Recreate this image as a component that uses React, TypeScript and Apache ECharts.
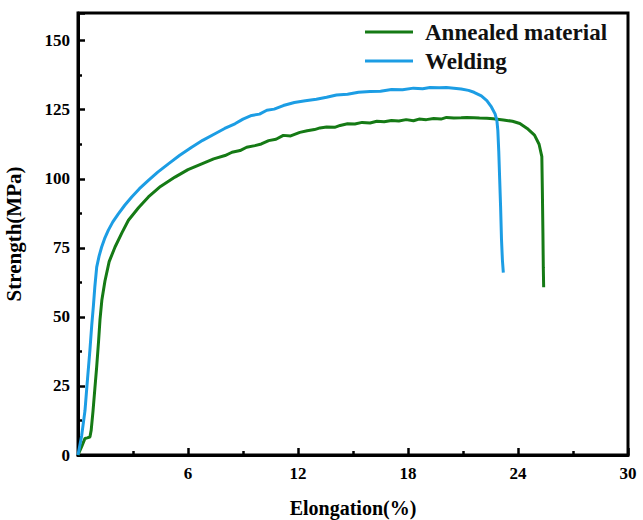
import React, { useEffect, useRef } from "react";
import * as echarts from "echarts";

const seriesNames = ["Annealed material", "Welding"];

const annealedX = [0, 0.2, 0.38, 0.5, 0.65, 0.72, 0.82, 0.92, 1.02, 1.12, 1.2, 1.3, 1.47, 1.7, 2.02, 2.4, 2.75, 3.3, 3.84, 4.5, 5.29, 6.0, 6.75, 7.4, 8.02, 8.4, 8.84, 9.2, 9.65, 10.0, 10.4, 10.8, 11.2, 11.6, 12.1, 12.5, 12.9, 13.2, 13.56, 14.0, 14.3, 14.7, 15.1, 15.5, 15.93, 16.3, 16.7, 17.1, 17.5, 17.9, 18.3, 18.6, 19.0, 19.4, 19.8, 20.1, 20.5, 20.9, 21.2, 21.6, 21.9, 22.3, 22.65, 23.2, 23.7, 24.1, 24.5, 24.9, 25.15, 25.3, 25.33, 25.36, 25.38, 25.4];
const annealedY = [0, 3, 6, 6.2, 6.5, 9, 16, 24, 32, 41, 49, 56, 63, 70, 75.3, 80.5, 85, 89.5, 93.4, 97.2, 100.6, 103.3, 105.4, 107.2, 108.4, 109.6, 110.2, 111.4, 112, 112.6, 113.8, 114.3, 115.7, 115.5, 116.8, 117.4, 117.8, 118.4, 118.7, 118.6, 119.3, 119.9, 119.8, 120.4, 120.2, 120.8, 120.6, 121.1, 120.9, 121.4, 121, 121.6, 121.4, 121.8, 121.6, 122.2, 122, 122.1, 122.2, 122.1, 122, 121.9, 121.7, 121.3, 120.8, 120, 118.2, 115.8, 112.5, 108, 95, 80, 68, 60.7];

const weldingX = [0, 0.2, 0.38, 0.5, 0.65, 0.75, 0.84, 0.92, 1.02, 1.15, 1.29, 1.45, 1.65, 1.9, 2.2, 2.55, 2.93, 3.35, 3.84, 4.35, 4.93, 5.55, 6.2, 6.8, 7.47, 8.0, 8.56, 9.0, 9.47, 9.9, 10.3, 10.7, 11.2, 11.8, 12.4, 13.0, 13.56, 14.1, 14.7, 15.3, 15.93, 16.5, 17.1, 17.7, 18.3, 18.8, 19.2, 19.7, 20.1, 20.5, 20.9, 21.3, 21.6, 22.0, 22.3, 22.55, 22.75, 22.85, 22.9, 22.95, 23.0, 23.05, 23.1, 23.15, 23.2];
const weldingY = [0, 7, 16, 26, 38, 47, 54, 61, 68, 72, 75.3, 78.3, 81.3, 84.4, 87.3, 90.4, 93.4, 96.4, 99.4, 102.4, 105.4, 108.5, 111.4, 113.9, 116.3, 118.2, 119.9, 121.6, 122.9, 123.4, 124.8, 125.2, 126.5, 127.6, 128.2, 128.8, 129.5, 130.3, 130.6, 131.3, 131.6, 131.7, 132.3, 132.2, 132.8, 132.6, 133.0, 132.9, 133, 132.8, 132.5, 132.0, 131.3, 130, 128.3, 126, 123.5, 121, 117.5, 110, 100, 90, 78, 70.5, 66];

const xTicks = { min: 0, max: 30, interval: 6 };
const yTicks = { min: 0, max: 160, interval: 25 };

const FONT = '"Liberation Serif", "Times New Roman", serif';
const GREEN = "#157a15";
const BLUE = "#1c9de4";

function pairs(xs: number[], ys: number[]) {
  return xs.map((x, i) => [x, ys[i]]);
}

export default function App() {
  const ref = useRef<HTMLDivElement>(null);
  useEffect(() => {
    if (!ref.current) return;
    const chart = echarts.init(ref.current, null, { renderer: "svg" });
    const axisCommon = {
      axisLine: { show: true, lineStyle: { color: "#000", width: 3 } },
      axisTick: { show: true, inside: true, length: 7, lineStyle: { color: "#000", width: 2.5 } },
      minorTick: { show: true, splitNumber: 2, length: 4, lineStyle: { color: "#000", width: 2.5 } },
      splitLine: { show: false },
      axisLabel: { color: "#000", fontFamily: FONT, fontWeight: "bold", fontSize: 17, margin: 8 },
      nameTextStyle: { color: "#000", fontFamily: FONT, fontWeight: "bold", fontSize: 21 },
    };
    chart.setOption({
      animation: false,
      backgroundColor: "#fff",
      grid: {
        left: 78,
        right: 15,
        top: 13,
        bottom: 65,
        containLabel: false,
        outerBoundsMode: "none",
        show: true,
        borderColor: "#000",
        borderWidth: 3,
        backgroundColor: "transparent",
      },
      legend: {
        orient: "vertical",
        left: 365,
        top: 20,
        padding: 0,
        icon: "rect",
        itemWidth: 48,
        itemHeight: 3,
        itemGap: 5,
        data: seriesNames,
        textStyle: {
          color: "#111",
          fontFamily: FONT,
          fontWeight: "bold",
          fontSize: 23,
          lineHeight: 24,
          padding: [0, 0, 0, 7],
        },
      },
      xAxis: {
        type: "value",
        ...xTicks,
        name: "Elongation(%)",
        nameLocation: "middle",
        nameGap: 43,
        ...axisCommon,
        nameTextStyle: { ...axisCommon.nameTextStyle, fontSize: 20 },
        axisLabel: { ...axisCommon.axisLabel, margin: 10, showMinLabel: false },
      },
      yAxis: {
        type: "value",
        ...yTicks,
        name: "Strength(MPa)",
        nameLocation: "middle",
        nameGap: 54,
        ...axisCommon,
        axisLabel: { ...axisCommon.axisLabel, showMaxLabel: false },
      },
      series: [
        {
          name: seriesNames[0],
          type: "line",
          data: pairs(annealedX, annealedY),
          showSymbol: false,
          symbol: "none",
          lineStyle: { color: GREEN, width: 3 },
          itemStyle: { color: GREEN },
          z: 3,
        },
        {
          name: seriesNames[1],
          type: "line",
          data: pairs(weldingX, weldingY),
          showSymbol: false,
          symbol: "none",
          lineStyle: { color: BLUE, width: 3 },
          itemStyle: { color: BLUE },
          z: 4,
        },
      ],
    });
    return () => chart.dispose();
  }, []);
  return <div ref={ref} style={{ width: 643, height: 520, position: "absolute", left: 0, top: 0 }} />;
}
